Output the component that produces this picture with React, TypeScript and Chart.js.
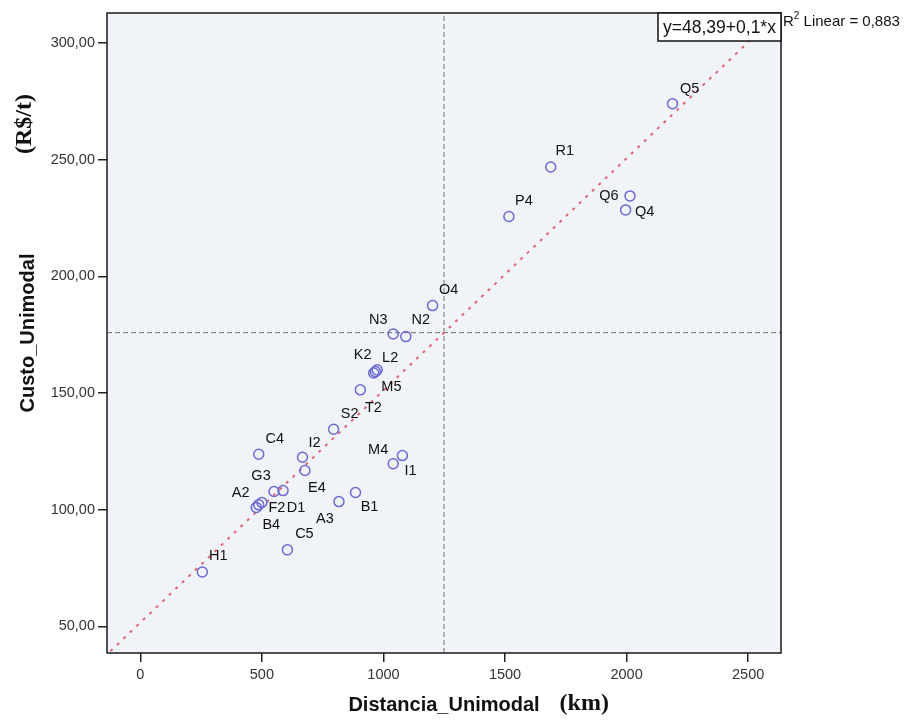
import React, { useEffect, useRef } from "react";
import { Chart, registerables } from "chart.js";

Chart.register(...registerables);

// ---- data ----
const pointNames = ["H1", "C5", "A2", "B4", "F2", "G3", "D1", "E4", "I2", "C4", "A3", "B1", "M4", "I1", "S2", "T2", "M5", "K2", "L2", "N3", "N2", "O4", "P4", "R1", "Q6", "Q4", "Q5"];
const distancia = [255, 605, 487, 477, 500, 550, 587, 677, 667, 487, 817, 885, 1040, 1078, 795, 905, 967, 960, 974, 1040, 1092, 1202, 1516, 1688, 2014, 1996, 2189];
const custo = [73.3, 82.8, 102.1, 101.0, 103.1, 107.8, 108.2, 116.8, 122.5, 123.8, 103.5, 107.4, 119.7, 123.2, 134.5, 151.4, 159.2, 158.6, 160.0, 175.3, 174.2, 187.5, 225.7, 246.9, 234.5, 228.5, 274.0];
// label placement relative to each point (px)
const labelOffsets = [[16, -16], [17, -16], [-18, -12], [15, 18], [15, 5], [-13, -16], [13, 17], [12, 17], [12, -14], [16, -15], [-14, 17], [14, 15], [-15, -14], [8, 15], [16, -15], [13, 18], [16, 15], [-11, -18], [13, -12], [-15, -14], [15, -17], [16, -16], [15, -15], [14, -16], [-21, 0], [19, 2], [17, -15]];

const xTickValues = [0, 500, 1000, 1500, 2000, 2500];
const yTickValues = [50, 100, 150, 200, 250, 300];
const xRange = [-137, 2635];
const yRange = [38.6, 312.9];
const meanDistancia = 1249;
const meanCusto = 175.9;
const fitX = [-150, 2700];
const fitY = [36.7, 320.3];

const equationText = "y=48,39+0,1*x";
const r2Prefix = "R";
const r2Sup = "2";
const r2Rest = " Linear = 0,883";
const xTitle = "Distancia_Unimodal";
const xUnit = "(km)";
const yTitle = "Custo_Unimodal";
const yUnit = "(R$/t)";

const SANS = '"Liberation Sans", Arial, sans-serif';
const SERIF = '"Liberation Serif", "Times New Roman", serif';

const fmt = (v: number) => v.toFixed(2).replace(".", ",");

const decorPlugin = {
  id: "decor",
  beforeDraw(chart: any) {
    const { ctx, chartArea: a } = chart;
    ctx.save();
    ctx.fillStyle = "#ffffff";
    ctx.fillRect(0, 0, chart.width, chart.height);
    ctx.fillStyle = "#f0f3f7";
    ctx.fillRect(a.left, a.top, a.right - a.left, a.bottom - a.top);
    ctx.restore();
  },
  afterDatasetsDraw(chart: any) {
    const { ctx } = chart;
    const meta = chart.getDatasetMeta(0);
    ctx.save();
    ctx.font = `14.5px ${SANS}`;
    ctx.fillStyle = "#111";
    ctx.textAlign = "center";
    ctx.textBaseline = "middle";
    meta.data.forEach((el: any, i: number) => {
      const [dx, dy] = labelOffsets[i];
      ctx.fillText(pointNames[i], el.x + dx, el.y + dy);
    });
    ctx.restore();
  },
  afterDraw(chart: any) {
    const { ctx, chartArea: a } = chart;
    ctx.save();
    // frame
    ctx.strokeStyle = "#1a1a1a";
    ctx.lineWidth = 1.5;
    ctx.strokeRect(a.left, a.top, a.right - a.left, a.bottom - a.top);

    // equation box
    const bw = 123, bh = 28;
    const bx = a.right - bw, by = a.top;
    ctx.fillStyle = "#ffffff";
    ctx.fillRect(bx, by, bw, bh);
    ctx.strokeStyle = "#111";
    ctx.lineWidth = 1.5;
    ctx.strokeRect(bx, by, bw, bh);
    ctx.fillStyle = "#111";
    ctx.font = `17.5px ${SANS}`;
    ctx.textAlign = "center";
    ctx.textBaseline = "middle";
    ctx.fillText(equationText, bx + bw / 2, by + bh / 2 + 1);

    // R^2 text
    ctx.textAlign = "left";
    ctx.textBaseline = "alphabetic";
    ctx.font = `15px ${SANS}`;
    let tx = a.right + 2;
    const ty = 26;
    ctx.fillText(r2Prefix, tx, ty);
    tx += ctx.measureText(r2Prefix).width;
    ctx.font = `10px ${SANS}`;
    ctx.fillText(r2Sup, tx, ty - 7);
    tx += ctx.measureText(r2Sup).width;
    ctx.font = `15px ${SANS}`;
    ctx.fillText(r2Rest, tx, ty);

    // x title (sans part centered on the axis, unit appended)
    ctx.textBaseline = "middle";
    ctx.font = `bold 20px ${SANS}`;
    const w1 = ctx.measureText(xTitle).width;
    const cx = (a.left + a.right) / 2;
    const sx = cx - w1 / 2;
    ctx.fillText(xTitle, sx, 705);
    ctx.font = `bold 24px ${SERIF}`;
    ctx.fillText(xUnit, sx + w1 + 20, 704);

    // y title
    ctx.save();
    ctx.translate(28, (a.top + a.bottom) / 2);
    ctx.rotate(-Math.PI / 2);
    ctx.textAlign = "center";
    ctx.font = `bold 20px ${SANS}`;
    ctx.fillText(yTitle, 0, 0);
    ctx.restore();
    ctx.save();
    ctx.translate(25, 124);
    ctx.rotate(-Math.PI / 2);
    ctx.textAlign = "center";
    ctx.font = `bold 24px ${SERIF}`;
    ctx.fillText(yUnit, 0, 0);
    ctx.restore();

    ctx.restore();
  },
};

export default function App() {
  const ref = useRef<HTMLCanvasElement | null>(null);

  useEffect(() => {
    if (!ref.current) return;
    const points = distancia.map((x, i) => ({ x, y: custo[i] }));
    const chart = new Chart(ref.current, {
      type: "scatter",
      data: {
        datasets: [
          {
            label: "points",
            data: points,
            pointStyle: "circle",
            pointRadius: 5,
            pointHoverRadius: 5,
            borderColor: "#6a6ad8",
            backgroundColor: "rgba(0,0,0,0)",
            pointBorderWidth: 1.5,
            borderWidth: 1.5,
            order: 0,
          } as any,
          {
            label: "fit",
            data: fitX.map((x, i) => ({ x, y: fitY[i] })),
            showLine: true,
            pointRadius: 0,
            borderColor: "rgba(226, 84, 104, 0.9)",
            borderWidth: 2,
            borderDash: [3, 6],
            order: 1,
          } as any,
          {
            label: "meanX",
            data: [
              { x: meanDistancia, y: yRange[0] },
              { x: meanDistancia, y: yRange[1] },
            ],
            showLine: true,
            pointRadius: 0,
            borderColor: "#707070",
            borderWidth: 1,
            borderDash: [5, 3],
            order: 2,
          } as any,
          {
            label: "meanY",
            data: [
              { x: xRange[0], y: meanCusto },
              { x: xRange[1], y: meanCusto },
            ],
            showLine: true,
            pointRadius: 0,
            borderColor: "#707070",
            borderWidth: 1,
            borderDash: [5, 3],
            order: 3,
          } as any,
        ],
      },
      options: {
        animation: false,
        responsive: false,
        maintainAspectRatio: false,
        events: [],
        layout: { padding: { top: 13, right: 126, left: 0, bottom: 0 } },
        plugins: {
          legend: { display: false },
          tooltip: { enabled: false },
        },
        scales: {
          x: {
            type: "linear",
            min: xRange[0],
            max: xRange[1],
            afterBuildTicks: (s: any) => {
              s.ticks = xTickValues.map((v) => ({ value: v }));
            },
            afterFit: (s: any) => {
              s.height = 67;
            },
            ticks: {
              callback: (v: any) => String(v),
              font: { family: SANS, size: 14.5 },
              color: "#333",
              padding: 4,
              maxRotation: 0,
              autoSkip: false,
            },
            grid: {
              drawOnChartArea: false,
              drawTicks: true,
              tickLength: 9,
              color: "#222",
              lineWidth: 1.5,
            },
            border: { display: false },
          },
          y: {
            type: "linear",
            min: yRange[0],
            max: yRange[1],
            afterBuildTicks: (s: any) => {
              s.ticks = yTickValues.map((v) => ({ value: v }));
            },
            afterFit: (s: any) => {
              s.width = 107;
            },
            ticks: {
              callback: (v: any) => fmt(Number(v)),
              font: { family: SANS, size: 14.5 },
              color: "#333",
              padding: 3,
              autoSkip: false,
            },
            grid: {
              drawOnChartArea: false,
              drawTicks: true,
              tickLength: 9,
              color: "#222",
              lineWidth: 1.5,
            },
            border: { display: false },
          },
        },
      } as any,
      plugins: [decorPlugin],
    });
    return () => chart.destroy();
  }, []);

  return (
    <div style={{ position: "absolute", left: 0, top: 0, width: 907, height: 720, background: "#fff" }}>
      <canvas ref={ref} width={907} height={720} style={{ width: 907, height: 720, display: "block" }} />
    </div>
  );
}
